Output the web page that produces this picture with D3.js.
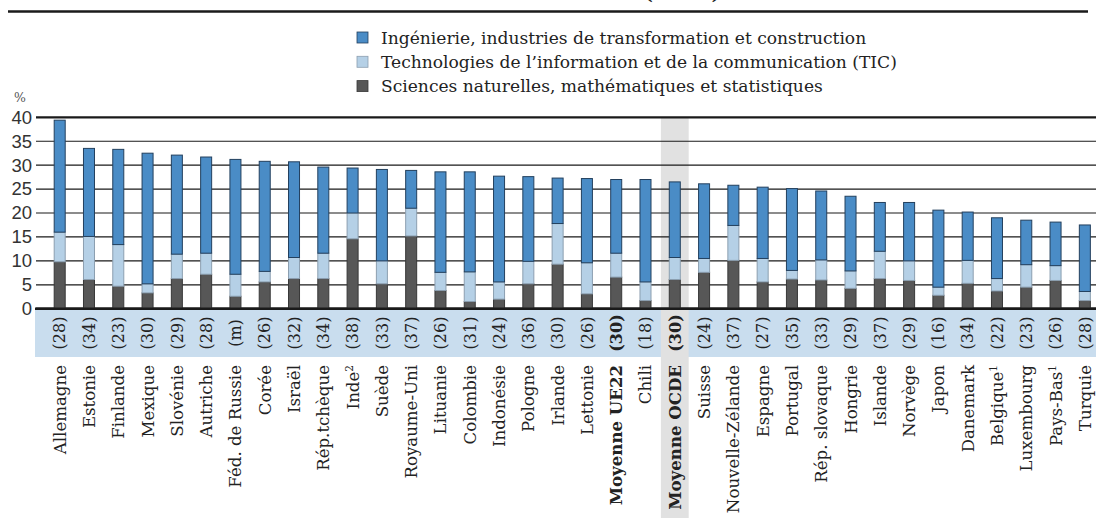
<!DOCTYPE html>
<html>
<head>
<meta charset="utf-8">
<script src="https://cdn.jsdelivr.net/npm/d3@7"></script>
<style>
  html, body { margin: 0; padding: 0; background: #fff; }
  svg { display: block; }
</style>
</head>
<body>
<svg id="chart" width="1096" height="518"></svg>
<script>
// Countries, in the displayed order
const countries = ["Allemagne","Estonie","Finlande","Mexique","Slovénie","Autriche","Féd. de Russie","Corée","Israël","Rép.tchèque","Inde","Suède","Royaume-Uni","Lituanie","Colombie","Indonésie","Pologne","Irlande","Lettonie","Moyenne UE22","Chili","Moyenne OCDE","Suisse","Nouvelle-Zélande","Espagne","Portugal","Rép. slovaque","Hongrie","Islande","Norvège","Japon","Danemark","Belgique","Luxembourg","Pays-Bas","Turquie"];
// Footnote markers attached to some country names
const footnotes = ["","","","","","","","","","","2","","","","","","","","","","","","","","","","","","","","","","1","","1",""];
// Bracketed values shown in the band under the axis
const rankLabels = ["(28)","(34)","(23)","(30)","(29)","(28)","(m)","(26)","(32)","(34)","(38)","(33)","(37)","(26)","(31)","(24)","(36)","(30)","(26)","(30)","(18)","(30)","(24)","(37)","(27)","(35)","(33)","(29)","(37)","(29)","(16)","(34)","(22)","(23)","(26)","(28)"];

// Series (%)
const sciences = [9.8,6.1,4.7,3.3,6.3,7.2,2.6,5.6,6.3,6.3,14.6,5.2,15.2,3.8,1.5,2.0,5.2,9.3,3.1,6.6,1.7,6.1,7.6,10.1,5.6,6.2,6.0,4.25,6.3,5.9,2.8,5.3,3.7,4.5,5.9,1.7];
const tic = [6.2,9.0,8.7,1.9,5.1,4.4,4.6,2.2,4.4,5.3,5.4,4.8,5.8,3.8,6.2,3.6,4.7,8.5,6.5,5.0,3.9,4.6,2.9,7.3,4.9,1.8,4.2,3.65,5.7,4.1,1.7,4.8,2.6,4.7,3.1,1.9];
const ingenierie = [23.4,18.4,19.9,27.3,20.7,20.1,24.0,23.0,20.0,18.0,9.4,19.1,7.9,21.0,20.9,22.1,17.7,9.5,17.6,15.4,21.4,15.8,15.6,8.4,14.9,17.1,14.4,15.6,10.2,12.2,16.1,10.1,12.7,9.3,9.1,13.9];

const seriesNames = [
  "Ingénierie, industries de transformation et construction",
  "Technologies de l’information et de la communication (TIC)",
  "Sciences naturelles, mathématiques et statistiques"
];
const yTicks = [0,5,10,15,20,25,30,35,40];
const boldCategories = ["Moyenne UE22","Moyenne OCDE"];
const highlighted = "Moyenne OCDE";
const titleText = "(2019)";

const colors = { ing: "#4a8cc6", tic: "#b5d0e6", sci: "#575757" };
const strokes = { ing: "#23405e", tic: "#8c9fb0", sci: "#383838" };

const W = 1096, H = 518;
const svg = d3.select("#chart");
svg.append("rect").attr("width", W).attr("height", H).attr("fill", "#fff");

const y = d3.scaleLinear().domain([0, 40]).range([308.7, 117.3]);
const step = 29.29;
const x = d3.scaleBand().domain(countries)
  .range([45.05, 45.05 + step * countries.length])
  .paddingInner(0.624).paddingOuter(0.312);
const cx = c => x(c) + x.bandwidth() / 2;

const axisLeft = 35;
const bandTop = y(0), bandBottom = 357;

// Title (its top part lies above the frame)
svg.append("text").attr("x", 643).attr("y", -1)
  .attr("font-family", "DejaVu Serif").attr("font-weight", "bold")
  .attr("font-size", 21).attr("fill", "#1a1a1a").text(titleText);
svg.append("line").attr("x1", 8).attr("x2", 1088).attr("y1", 11.5).attr("y2", 11.5)
  .attr("stroke", "#1a1a1a").attr("stroke-width", 2.5);

// Legend
const legend = svg.append("g");
const legendKeys = ["ing", "tic", "sci"];
legendKeys.forEach((k, i) => {
  const cy = 37.5 + i * 24.3;
  legend.append("rect").attr("x", 357).attr("y", cy - 5.5).attr("width", 11).attr("height", 11)
    .attr("fill", colors[k]).attr("stroke", strokes[k]).attr("stroke-width", 0.8);
  legend.append("text").attr("x", 381).attr("y", cy + 6)
    .attr("font-family", "DejaVu Serif").attr("font-size", 17.1).attr("fill", "#222")
    .text(seriesNames[i]);
});

// Label band below the axis
svg.append("rect").attr("x", axisLeft).attr("y", bandTop).attr("width", W - axisLeft).attr("height", bandBottom - bandTop)
  .attr("fill", "#c9ddee");

// Highlight column for the OECD average
svg.append("rect").attr("x", cx(highlighted) - 13.9).attr("y", y(40)).attr("width", 27.8).attr("height", H - y(40))
  .attr("fill", "#e1e1e1");

// Gridlines
const grid = svg.append("g");
yTicks.forEach(t => {
  const heavy = (t === 0 || t === 40);
  grid.append("line").attr("x1", axisLeft + 1).attr("x2", W).attr("y1", y(t)).attr("y2", y(t))
    .attr("stroke", "#1a1a1a").attr("stroke-width", heavy ? (t === 0 ? 2.6 : 2.2) : 1.2);
});

// Y tick labels
const yAxis = d3.axisLeft(y).tickValues(yTicks).tickSize(0).tickPadding(0);
const yg = svg.append("g").attr("transform", "translate(32,0)").call(yAxis);
yg.select(".domain").remove();
yg.selectAll("text").attr("font-family", "Liberation Sans").attr("font-size", 18.5).attr("fill", "#333");

svg.append("text").attr("x", 14).attr("y", 102).attr("font-family", "DejaVu Serif")
  .attr("font-size", 12.5).attr("fill", "#555").text("%");

// Stacked bars
const rows = countries.map((c, i) => ({ c, sci: sciences[i], tic: tic[i], ing: ingenierie[i] }));
const stack = d3.stack().keys(["sci", "tic", "ing"])(rows);
const bars = svg.append("g");
stack.forEach(layer => {
  const k = layer.key;
  bars.selectAll(null).data(layer).join("rect")
    .attr("x", d => x(d.data.c))
    .attr("width", x.bandwidth())
    .attr("y", d => y(d[1]))
    .attr("height", d => y(d[0]) - y(d[1]))
    .attr("fill", colors[k])
    .attr("stroke", strokes[k])
    .attr("stroke-width", 1);
});
// redraw baseline over bar bottoms
svg.append("line").attr("x1", axisLeft).attr("x2", W).attr("y1", y(0)).attr("y2", y(0))
  .attr("stroke", "#1a1a1a").attr("stroke-width", 2.6);

// Bracketed values in the band
svg.append("g").selectAll("text").data(countries).join("text")
  .attr("transform", (c) => `translate(${cx(c)},333) rotate(-90)`)
  .attr("dy", "0.36em")
  .attr("text-anchor", "middle")
  .attr("font-family", "DejaVu Serif").attr("font-size", 16).attr("fill", "#222")
  .attr("font-weight", c => boldCategories.includes(c) ? "bold" : "normal")
  .text((c, i) => rankLabels[i]);

// Category labels
const cl = svg.append("g").selectAll("text").data(countries).join("text")
  .attr("transform", c => `translate(${cx(c)},365) rotate(-90)`)
  .attr("dy", "0.36em")
  .attr("text-anchor", "end")
  .attr("font-family", "DejaVu Serif").attr("font-size", 16.6).attr("fill", "#222")
  .attr("font-weight", c => boldCategories.includes(c) ? "bold" : "normal");
cl.each(function(c, i) {
  const t = d3.select(this);
  t.append("tspan").text(c);
  if (footnotes[i]) {
    t.append("tspan").attr("font-size", 10.5).attr("dy", "-0.55em").text(footnotes[i]);
  }
});
</script>
</body>
</html>
